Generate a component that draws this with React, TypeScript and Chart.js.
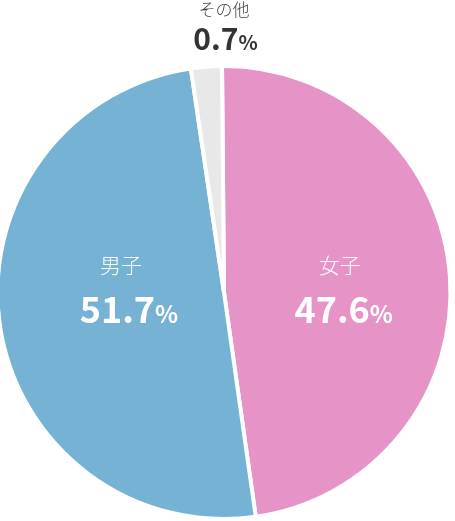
import { useEffect, useRef } from 'react';
import { Chart, PieController, ArcElement } from 'chart.js';

Chart.register(PieController, ArcElement);

// categories and the percentages printed on the chart
const categories = ['女子', '男子', 'その他'];
const labelPercents = ['47.6', '51.7', '0.7'];
// slice sizes as drawn in the picture
const sliceValues = [47.9, 49.9, 2.2];
const sliceColors = ['#e693c7', '#75b2d4', '#e8e8e8'];

const FONT = '"Noto Sans CJK JP", "Noto Sans", sans-serif';
// radial fraction where the in-slice labels sit, and a small nudge for the names
const labelRadius = [0.53, 0.424];
const nameShift = [-4, -8];

function drawValue(ctx: CanvasRenderingContext2D, text: string, cx: number, baseline: number, size: number, pctSize: number, color: string) {
  ctx.fillStyle = color;
  ctx.textAlign = 'left';
  ctx.textBaseline = 'alphabetic';
  ctx.font = `bold ${size}px ${FONT}`;
  const w1 = ctx.measureText(text).width;
  ctx.font = `bold ${pctSize}px ${FONT}`;
  const w2 = ctx.measureText('%').width;
  const left = cx - (w1 + w2) / 2;
  ctx.font = `bold ${size}px ${FONT}`;
  ctx.fillText(text, left, baseline);
  ctx.font = `bold ${pctSize}px ${FONT}`;
  ctx.fillText('%', left + w1, baseline);
}

const labelPlugin = {
  id: 'sliceLabels',
  afterDatasetsDraw(chart: any) {
    const ctx = chart.ctx as CanvasRenderingContext2D;
    const meta = chart.getDatasetMeta(0);
    ctx.save();
    meta.data.forEach((arc: any, i: number) => {
      const { x, y, startAngle, endAngle, outerRadius } = arc.getProps(
        ['x', 'y', 'startAngle', 'endAngle', 'outerRadius'],
        true
      );
      if (i < 2) {
        const mid = (startAngle + endAngle) / 2;
        const lx = x + Math.cos(mid) * outerRadius * labelRadius[i];
        ctx.fillStyle = '#ffffff';
        ctx.textAlign = 'center';
        ctx.textBaseline = 'middle';
        ctx.font = `300 21px ${FONT}`;
        ctx.fillText(categories[i], lx + nameShift[i], y - 27);
        drawValue(ctx, labelPercents[i], lx, y + 30.5, 36, 24, '#ffffff');
      } else {
        const top = y - outerRadius;
        ctx.fillStyle = '#444444';
        ctx.textAlign = 'center';
        ctx.textBaseline = 'middle';
        ctx.font = `300 17px ${FONT}`;
        ctx.fillText(categories[i], x, top - 56);
        drawValue(ctx, labelPercents[i], x + 1.5, top - 16, 30, 20, '#333333');
      }
    });
    ctx.restore();
  },
};

export default function App() {
  const canvasRef = useRef<HTMLCanvasElement>(null);
  const chartRef = useRef<Chart | null>(null);

  useEffect(() => {
    if (!canvasRef.current) return;
    const ctx = canvasRef.current.getContext('2d');
    if (!ctx) return;
    if (chartRef.current) chartRef.current.destroy();

    chartRef.current = new Chart(ctx, {
      type: 'pie',
      data: {
        labels: categories,
        datasets: [
          {
            data: sliceValues,
            backgroundColor: sliceColors,
            borderColor: '#ffffff',
            borderWidth: 4,
            hoverBorderWidth: 4,
            hoverOffset: 0,
          },
        ],
      },
      options: {
        responsive: true,
        maintainAspectRatio: false,
        animation: false,
        rotation: -0.5,
        events: [],
        layout: {
          padding: { left: 5.5, right: 12.5, top: 64, bottom: 0 },
        },
        plugins: {
          legend: { display: false },
          tooltip: { enabled: false },
        },
      },
      plugins: [labelPlugin],
    });

    return () => {
      if (chartRef.current) {
        chartRef.current.destroy();
        chartRef.current = null;
      }
    };
  }, []);

  return (
    <div style={{ position: 'absolute', left: -10, top: 0, width: 475, height: 521 }}>
      <canvas ref={canvasRef}></canvas>
    </div>
  );
}
